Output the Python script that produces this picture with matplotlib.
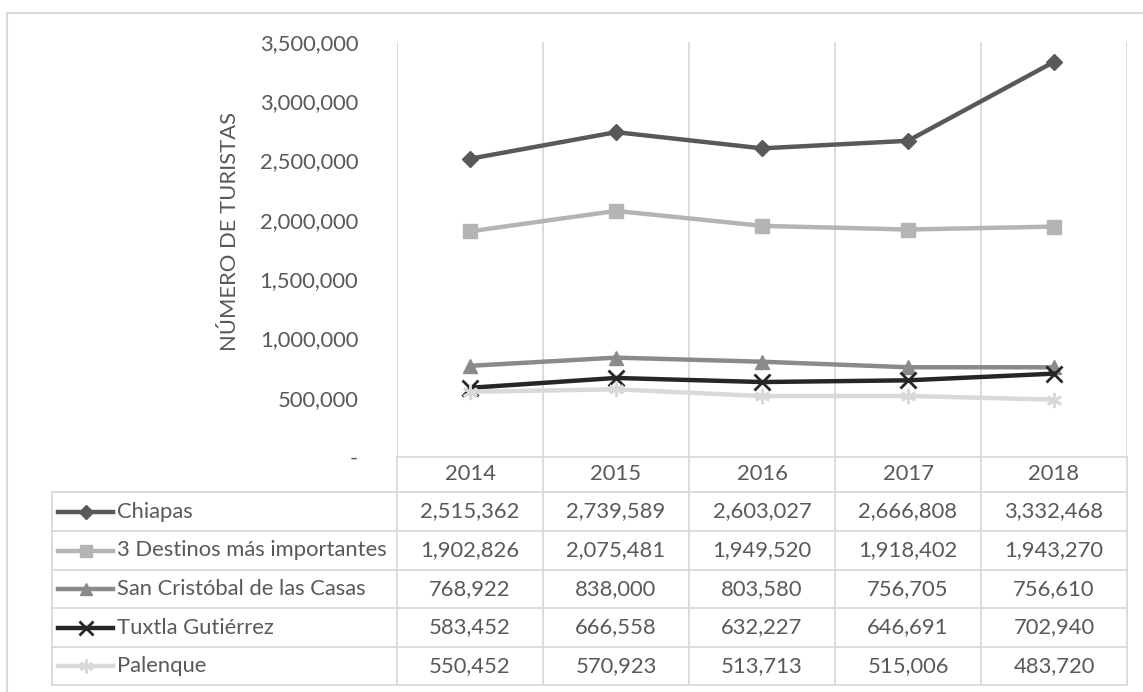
import matplotlib
matplotlib.use("Agg")
import matplotlib.pyplot as plt
from matplotlib.lines import Line2D
from matplotlib.patches import Rectangle
from matplotlib.ticker import FuncFormatter

plt.rcParams['font.family'] = ['Lato', 'DejaVu Sans']

years = ["2014", "2015", "2016", "2017", "2018"]
series_names = ["Chiapas", "3 Destinos más importantes", "San Cristóbal de las Casas",
                "Tuxtla Gutiérrez", "Palenque"]
chiapas = [2515362, 2739589, 2603027, 2666808, 3332468]
destinos = [1902826, 2075481, 1949520, 1918402, 1943270]
san_cristobal = [768922, 838000, 803580, 756705, 756610]
tuxtla = [583452, 666558, 632227, 646691, 702940]
palenque = [550452, 570923, 513713, 515006, 483720]
y_ticks = [0, 500000, 1000000, 1500000, 2000000, 2500000, 3000000, 3500000]

all_series = [chiapas, destinos, san_cristobal, tuxtla, palenque]
colors = ["#595959", "#b4b4b4", "#8a8a8a", "#262626", "#d9d9d9"]
markers = ["D", "s", "^", "x", (6, 2, 0)]
msizes = [8, 10, 10, 11, 11]

W, H = 1143, 692
fig = plt.figure(figsize=(W / 100, H / 100), dpi=100)


def fx(px):
    return px / W


def fy(py):
    return 1 - py / H


text_col = "#595959"
grid_col = "#d9d9d9"
fs = 15.8

# plot area (pixel coords)
x0, x1 = 397, 1127
ytop, ybot = 42, 457
ax = fig.add_axes((fx(x0), fy(ybot), fx(x1) - fx(x0), fy(ytop) - fy(ybot)))
xs = list(range(len(years)))
for vals, c, m, ms in zip(all_series, colors, markers, msizes):
    mew = 2 if m in ("x", (6, 2, 0)) else 1
    ax.plot(xs, vals, color=c, lw=3.2, marker=m, markersize=ms,
            markeredgewidth=mew, markeredgecolor=c, markerfacecolor=c, zorder=3)

ax.set_xlim(-0.5, len(years) - 0.5)
ax.set_ylim(0, 3500000)
ax.set_yticks(y_ticks)
ax.yaxis.set_major_formatter(FuncFormatter(lambda v, p: "-" if v == 0 else f"{int(v):,}"))
ax.set_xticks([i - 0.5 for i in range(len(years) + 1)])
ax.set_xticklabels([])
ax.tick_params(axis="y", length=0, pad=28, labelsize=fs, labelcolor=text_col)
ax.tick_params(axis="x", length=0)
ax.grid(axis="x", color=grid_col, lw=1.3)
for s in ax.spines.values():
    s.set_visible(False)
fig.text(fx(230), fy(232), "NÚMERO DE TURISTAS", rotation=90, ha="center", va="center",
         fontsize=fs, color=text_col)

# outer frame
fig.add_artist(Rectangle((fx(7), fy(720)), fx(1180) - fx(7), fy(13) - fy(720),
                         transform=fig.transFigure, fill=False, ec=grid_col, lw=1.5))

# data table
col_w = (x1 - x0) / len(years)
col_edges = [x0 + i * col_w for i in range(len(years) + 1)]
row_edges = [457, 492, 531, 570, 608, 647, 685]
leg_x = 52


def hline(y, xa, xb):
    fig.add_artist(Line2D([fx(xa), fx(xb)], [fy(y), fy(y)], color=grid_col, lw=1.3))


def vline(x, ya, yb):
    fig.add_artist(Line2D([fx(x), fx(x)], [fy(ya), fy(yb)], color=grid_col, lw=1.3))


hline(row_edges[0], x0, x1)
for y in row_edges[1:]:
    hline(y, leg_x, x1)
for x in col_edges:
    vline(x, row_edges[0], row_edges[-1])
vline(leg_x, row_edges[1], row_edges[-1])

for i, yr in enumerate(years):
    cx = (col_edges[i] + col_edges[i + 1]) / 2
    cy = (row_edges[0] + row_edges[1]) / 2
    fig.text(fx(cx), fy(cy), yr, ha="center", va="center", fontsize=fs, color=text_col)

for r, (name, vals, c, m, ms) in enumerate(zip(series_names, all_series, colors, markers, msizes)):
    cy = (row_edges[r + 1] + row_edges[r + 2]) / 2
    mew = 2 if m in ("x", (6, 2, 0)) else 1
    fig.add_artist(Line2D([fx(58), fx(113)], [fy(cy), fy(cy)], color=c, lw=3.2))
    fig.add_artist(Line2D([fx(86)], [fy(cy)], color=c, marker=m, markersize=ms * 0.9,
                          markeredgewidth=mew, markeredgecolor=c, markerfacecolor=c))
    fig.text(fx(117), fy(cy), name, ha="left", va="center", fontsize=fs, color=text_col)
    for i, v in enumerate(vals):
        cx = (col_edges[i] + col_edges[i + 1]) / 2
        fig.text(fx(cx), fy(cy), f"{v:,}", ha="center", va="center", fontsize=fs, color=text_col)

fig.savefig("out.png", dpi=100)
